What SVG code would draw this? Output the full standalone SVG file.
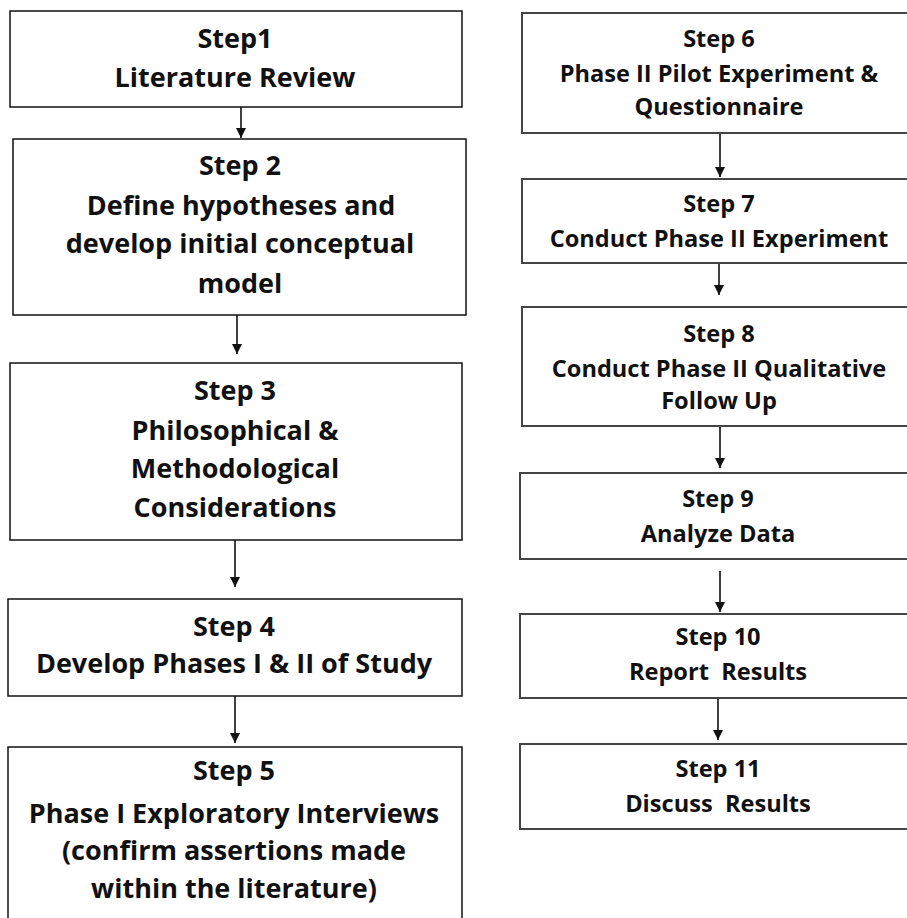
<svg xmlns="http://www.w3.org/2000/svg" width="907" height="918" viewBox="0 0 907 918">
  <style>
    .box-l { fill: #fff; stroke: #111; stroke-width: 1.5; }
    .box-r { fill: #fff; stroke: #444; stroke-width: 2; }
    .t { font-family: "Open Sans", "Liberation Sans", sans-serif; font-weight: bold; fill: #111; text-anchor: middle; }
    .tl { font-size: 27px; }
    .tr { font-size: 23.6px; }
    .edge { stroke: #111; stroke-width: 1.6; fill: none; marker-end: url(#arrow); }
  </style>
  <defs>
    <marker id="arrow" markerUnits="userSpaceOnUse" markerWidth="10" markerHeight="10" refX="10" refY="5" viewBox="0 0 10 10" orient="auto">
      <path d="M0,0 L10,5 L0,10 z" fill="#111"/>
    </marker>
  </defs>
  <rect width="907" height="918" fill="#fff"/>

  <!-- connectors -->
  <g id="connectors">
    <line class="edge" x1="241" y1="107" x2="241" y2="138"/>
    <line class="edge" x1="237" y1="315" x2="237" y2="354"/>
    <line class="edge" x1="235" y1="540" x2="235" y2="587"/>
    <line class="edge" x1="235" y1="696" x2="235" y2="743"/>
    <line class="edge" x1="720" y1="133" x2="720" y2="177"/>
    <line class="edge" x1="719" y1="263" x2="719" y2="295"/>
    <line class="edge" x1="720" y1="426" x2="720" y2="468"/>
    <line class="edge" x1="720" y1="571" x2="720" y2="612"/>
    <line class="edge" x1="718" y1="698" x2="718" y2="740"/>
  </g>

  <!-- left column -->
  <g id="step1">
    <rect class="box-l" x="10" y="11" width="452" height="96"/>
    <text class="t tl" x="235" y="48">Step1</text>
    <text class="t tl" x="235" y="87">Literature Review</text>
  </g>
  <g id="step2">
    <rect class="box-l" x="13" y="139" width="453" height="176"/>
    <text class="t tl" x="240" y="175">Step 2</text>
    <text class="t tl" x="241" y="215">Define hypotheses and</text>
    <text class="t tl" x="240" y="253">develop initial conceptual</text>
    <text class="t tl" x="240" y="293">model</text>
  </g>
  <g id="step3">
    <rect class="box-l" x="10" y="363" width="452" height="177"/>
    <text class="t tl" x="235" y="400">Step 3</text>
    <text class="t tl" x="235" y="440">Philosophical &amp;</text>
    <text class="t tl" x="235" y="478">Methodological</text>
    <text class="t tl" x="235" y="517">Considerations</text>
  </g>
  <g id="step4">
    <rect class="box-l" x="8" y="599" width="454" height="97"/>
    <text class="t tl" x="234" y="636">Step 4</text>
    <text class="t tl" x="234" y="673">Develop Phases I &amp; II of Study</text>
  </g>
  <g id="step5">
    <rect class="box-l" x="8" y="747" width="454" height="190"/>
    <text class="t tl" x="234" y="780">Step 5</text>
    <text class="t tl" x="234" y="823">Phase I Exploratory Interviews</text>
    <text class="t tl" x="234" y="860">(confirm assertions made</text>
    <text class="t tl" x="234" y="898">within the literature)</text>
  </g>

  <!-- right column -->
  <g id="step6">
    <rect class="box-r" x="522" y="13" width="400" height="120"/>
    <text class="t tr" x="719" y="47">Step 6</text>
    <text class="t tr" x="719" y="82">Phase II Pilot Experiment &amp;</text>
    <text class="t tr" x="719" y="115">Questionnaire</text>
  </g>
  <g id="step7">
    <rect class="box-r" x="522" y="179" width="400" height="84"/>
    <text class="t tr" x="719" y="212">Step 7</text>
    <text class="t tr" x="719" y="247">Conduct Phase II Experiment</text>
  </g>
  <g id="step8">
    <rect class="box-r" x="522" y="307" width="400" height="119"/>
    <text class="t tr" x="719" y="342">Step 8</text>
    <text class="t tr" x="719" y="377">Conduct Phase II Qualitative</text>
    <text class="t tr" x="719" y="409">Follow Up</text>
  </g>
  <g id="step9">
    <rect class="box-r" x="520" y="473" width="402" height="86"/>
    <text class="t tr" x="718" y="507">Step 9</text>
    <text class="t tr" x="718" y="542">Analyze Data</text>
  </g>
  <g id="step10">
    <rect class="box-r" x="520" y="614" width="402" height="84"/>
    <text class="t tr" x="718" y="645">Step 10</text>
    <text class="t tr" x="718" y="680" xml:space="preserve">Report  Results</text>
  </g>
  <g id="step11">
    <rect class="box-r" x="520" y="744" width="402" height="85"/>
    <text class="t tr" x="718" y="777">Step 11</text>
    <text class="t tr" x="718" y="812" xml:space="preserve">Discuss  Results</text>
  </g>
</svg>
